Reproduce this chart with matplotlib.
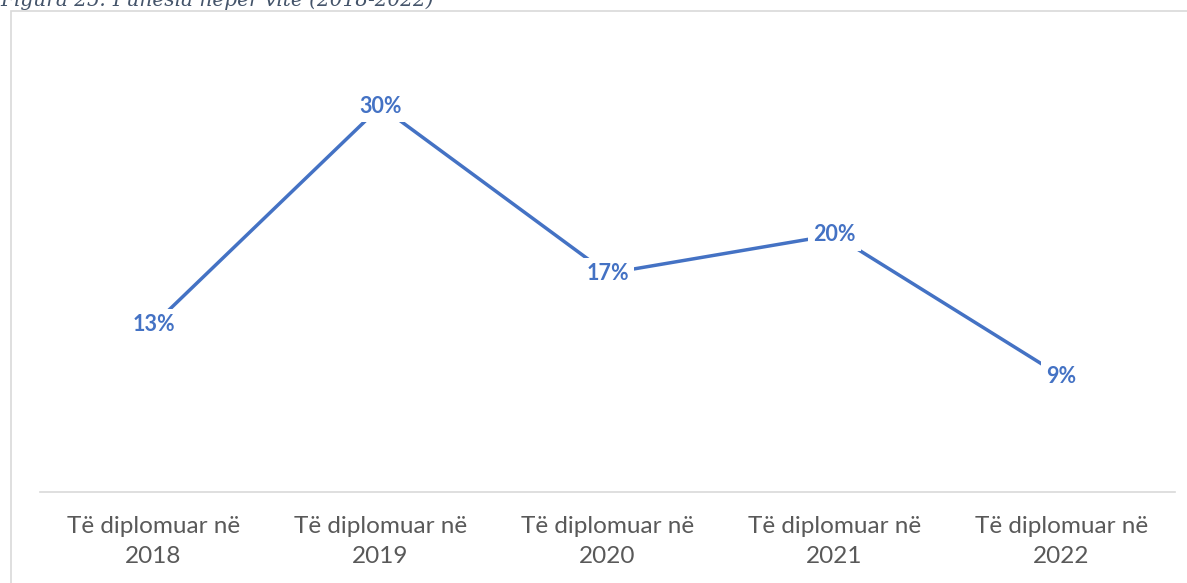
import matplotlib.pyplot as plt
from matplotlib.patches import Rectangle

categories = ["Të diplomuar në\n2018", "Të diplomuar në\n2019", "Të diplomuar në\n2020",
              "Të diplomuar në\n2021", "Të diplomuar në\n2022"]
values = [13, 30, 17, 20, 9]
labels = ["13%", "30%", "17%", "20%", "9%"]

blue = "#4472C4"
plt.rcParams['font.family'] = ['Lato', 'DejaVu Sans']

fig = plt.figure(figsize=(11.87, 5.83), dpi=100)
ax = fig.add_axes([40/1187, 1 - 492/583, 1135/1187, 450/583])

# outer chart frame
fig.patches.append(Rectangle((11/1187, -0.1), 1.2, 1 - 11/583 + 0.1, transform=fig.transFigure,
                             fill=False, edgecolor="#d9d9d9", lw=1.2, zorder=0))

# caption, cut off at the top like in the source
fig.text(0.0, 1.0, "Figura 25: Punësia nëpër vite (2018-2022)", fontsize=14.5, style="italic",
         family="DejaVu Serif", color="#44546a", va="center", ha="left")

x = list(range(len(values)))
ax.plot(x, values, color=blue, lw=2.5, solid_capstyle="butt", zorder=2)
for xi, v, lab in zip(x, values, labels):
    ax.text(xi, v, lab, ha="center", va="center", fontsize=15.5, fontweight="bold", color=blue,
            bbox=dict(boxstyle="square,pad=0.25", fc="white", ec="none"), zorder=3)

ax.set_xlim(-0.5, 4.5)
ax.set_ylim(0, 35)
ax.set_yticks([])
ax.set_xticks(x)
ax.set_xticklabels(categories, fontsize=17.5, color="#595959", linespacing=1.55)
ax.tick_params(axis="x", length=0, pad=17)
for s in ["top", "left", "right"]:
    ax.spines[s].set_visible(False)
ax.spines["bottom"].set_color("#d9d9d9")
ax.spines["bottom"].set_linewidth(1.2)

fig.savefig("out.png", dpi=100)
